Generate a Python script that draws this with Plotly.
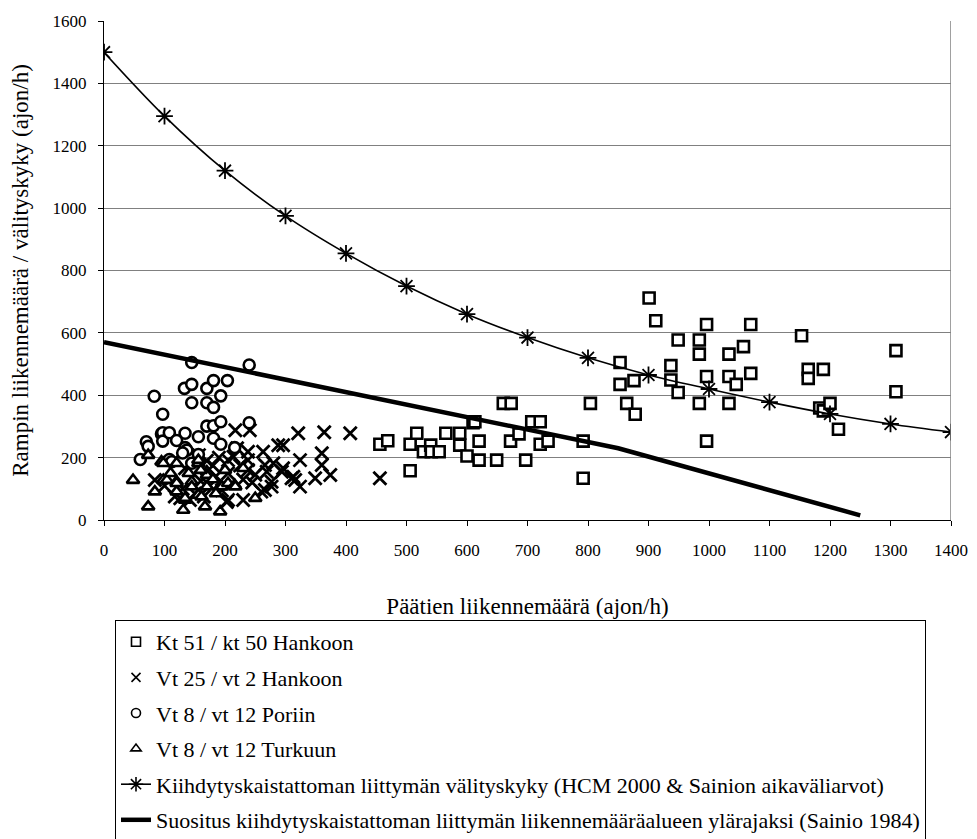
import plotly.graph_objects as go

# ---- data ----
kt51_x = [456, 469, 506, 517, 506, 528, 540, 541, 554, 565, 588, 588, 600, 610, 620, 620, 613, 649,
          660, 673, 672, 686, 697, 707, 721, 721, 734, 792, 792, 804, 853, 853, 864, 876, 878, 901,
          912, 937, 937, 949, 949, 984, 984, 984, 996, 996, 996, 1033, 1033, 1033, 1045, 1057, 1069,
          1069, 1153, 1164, 1164, 1189, 1183, 1189, 1200, 1214, 1309, 1309]
kt51_y = [243, 254, 243, 278, 158, 219, 240, 219, 219, 278, 278, 240, 205, 312, 253, 192, 315, 192,
          374, 374, 253, 276, 192, 315, 315, 243, 253, 253, 134, 374, 505, 435, 374, 447, 339, 712,
          639, 495, 449, 577, 409, 577, 532, 374, 627, 460, 253, 532, 460, 374, 435, 556, 627,
          470, 591, 483, 454, 483, 359, 350, 374, 291, 543, 411]

vt25_x = [84, 117, 126, 134, 142, 153, 157, 203, 205, 205, 205, 214, 217, 230, 238, 238, 238, 241,
          260, 263, 266, 266, 269, 277, 277, 280, 288, 294, 296, 296, 310, 313, 316, 321, 324, 324,
          349, 360, 360, 364, 374, 407, 456, 170, 180, 190, 195, 175, 160, 185, 225, 245, 250, 220,
          230, 130, 150, 100, 165]
vt25_y = [128, 75, 70, 166, 64, 203, 208, 58, 192, 150, 64, 203, 288, 64, 219, 192, 160, 288,
          91, 219, 176, 96, 155, 107, 123, 182, 240, 155, 240, 166, 134, 139, 128, 278, 192, 107,
          134, 214, 176, 281, 144, 278, 134, 190, 175, 200, 95, 110, 125, 140, 175, 120, 145, 230,
          130, 100, 85, 110, 75]

vt8p_x = [60, 70, 73, 83, 95, 97, 97, 97, 108, 108, 112, 133, 134, 134, 137, 145, 145, 145, 145,
          156, 170, 170, 170, 181, 181, 181, 181, 193, 193, 193, 204, 216, 240, 240, 156, 120, 130]
vt8p_y = [194, 251, 236, 397, 276, 339, 280, 253, 280, 194, 187, 422, 278, 232, 224, 505, 435, 376,
          182, 267, 422, 376, 301, 447, 361, 302, 262, 398, 315, 243, 447, 232, 497, 312, 210, 255, 215]

vt8t_x = [48, 73, 73, 84, 95, 98, 98, 104, 120, 120, 120, 120, 131, 134, 134, 145, 145, 156, 156,
          156, 161, 167, 170, 170, 170, 192, 192, 195, 205, 216, 217, 230, 250, 160, 140, 180, 110,
          200, 185]
vt8t_y = [128, 208, 43, 91, 187, 182, 128, 128, 182, 123, 91, 118, 32, 64, 70, 123, 107, 182, 192,
          80, 75, 43, 155, 144, 107, 107, 27, 107, 118, 112, 107, 166, 70, 160, 150, 130, 150,
          160, 85]

cap_x = [0, 100, 200, 300, 400, 500, 600, 700, 800, 900, 1000, 1100, 1200, 1300, 1400]
cap_y = [1500, 1295, 1120, 975, 855, 750, 660, 585, 520, 465, 420, 378, 340, 308, 282]

rec_x = [0, 850, 1250]
rec_y = [570, 230, 15]

names = [
    "Kt 51 / kt 50 Hankoon",
    "Vt 25 / vt 2 Hankoon",
    "Vt 8 / vt 12 Poriin",
    "Vt 8 / vt 12 Turkuun",
    "Kiihdytyskaistattoman liittymän välityskyky (HCM 2000 & Sainion aikaväliarvot)",
    "Suositus kiihdytyskaistattoman liittymän liikennemääräalueen ylärajaksi (Sainio 1984)",
]

FONT = "Liberation Serif, Times New Roman, serif"
# the page body has an 8px margin, so the figure is drawn at (8, 8)
W, H = 969, 831
fig = go.Figure()

def sc(x, y, name, symbol, g):
    fig.add_trace(go.Scatter(
        x=x, y=y, mode="markers", name=name, legendgroup=g, showlegend=False,
        marker=dict(symbol=symbol, size=11, color="white",
                    line=dict(color="black", width=2.6)),
    ))

sc(kt51_x, kt51_y, names[0], "square", "a")
fig.add_trace(go.Scatter(
    x=vt25_x, y=vt25_y, mode="markers", name=names[1], legendgroup="b", showlegend=False,
    marker=dict(symbol="x-thin", size=13, color="black",
                line=dict(color="black", width=2.8)),
))
sc(vt8p_x, vt8p_y, names[2], "circle", "c")
sc(vt8t_x, vt8t_y, names[3], "triangle-up", "d")

fig.add_trace(go.Scatter(
    x=cap_x, y=cap_y, mode="lines+markers", name=names[4], legendgroup="e", showlegend=False,
    line=dict(color="black", width=1.6, shape="spline"),
    marker=dict(symbol="asterisk", size=14, color="black",
                line=dict(color="black", width=1.8)),
))
fig.add_trace(go.Scatter(
    x=rec_x, y=rec_y, mode="lines", name=names[5], legendgroup="f", showlegend=False,
    line=dict(color="black", width=4.5),
))

# legend entries (smaller, thinner symbols as in the original legend)
leg_symbols = ["square-open", "x-thin-open", "circle-open", "triangle-up-open"]
for nm, sym, g in zip(names[:4], leg_symbols, "abcd"):
    fig.add_trace(go.Scatter(
        x=[None], y=[None], mode="markers", name=nm, legendgroup=g,
        marker=dict(symbol=sym, size=9, color="black", line=dict(color="black", width=1.6)),
    ))
fig.add_trace(go.Scatter(
    x=[None], y=[None], mode="lines+markers", name=names[4], legendgroup="e",
    line=dict(color="black", width=1.6),
    marker=dict(symbol="asterisk-open", size=12, color="black", line=dict(color="black", width=1.6)),
))
fig.add_trace(go.Scatter(
    x=[None], y=[None], mode="lines", name=names[5], legendgroup="f",
    line=dict(color="black", width=4.5),
))

fig.update_layout(
    width=W, height=H,
    margin=dict(l=96, r=26, t=13, b=319, autoexpand=False),
    paper_bgcolor="white", plot_bgcolor="white",
    font=dict(family=FONT, size=17, color="black"),
    showlegend=True,
    legend=dict(
        x=11 / 847, y=-100 / 499, xanchor="left", yanchor="top",
        bordercolor="black", borderwidth=1, bgcolor="white",
        font=dict(family=FONT, size=22, color="black"),
        tracegroupgap=4, itemwidth=30,
    ),
    xaxis=dict(
        range=[0, 1400], tickvals=list(range(0, 1401, 100)),
        showgrid=False, zeroline=False, automargin=False,
        showline=True, linecolor="black", linewidth=1,
        ticks="outside", ticklen=5, tickcolor="black",
        ticklabelstandoff=10,
        tickfont=dict(family=FONT, size=17),
        title=dict(text="Päätien liikennemäärä (ajon/h)", standoff=38,
                   font=dict(family=FONT, size=23)),
    ),
    yaxis=dict(
        range=[0, 1600], tickvals=list(range(0, 1601, 200)),
        showgrid=True, gridcolor="#808080", gridwidth=1,
        zeroline=False, automargin=False,
        showline=True, linecolor="black", linewidth=1,
        ticks="outside", ticklen=5, tickcolor="black",
        ticklabelstandoff=8,
        tickfont=dict(family=FONT, size=17),
        title=dict(text="Rampin liikennemäärä / välityskyky (ajon/h)", standoff=18,
                   font=dict(family=FONT, size=23)),
    ),
)
# right border of plot area
fig.add_shape(type="line", xref="x", yref="paper", x0=1400, x1=1400, y0=0, y1=1,
              line=dict(color="#808080", width=1.5))

fig.write_html("out.html")
